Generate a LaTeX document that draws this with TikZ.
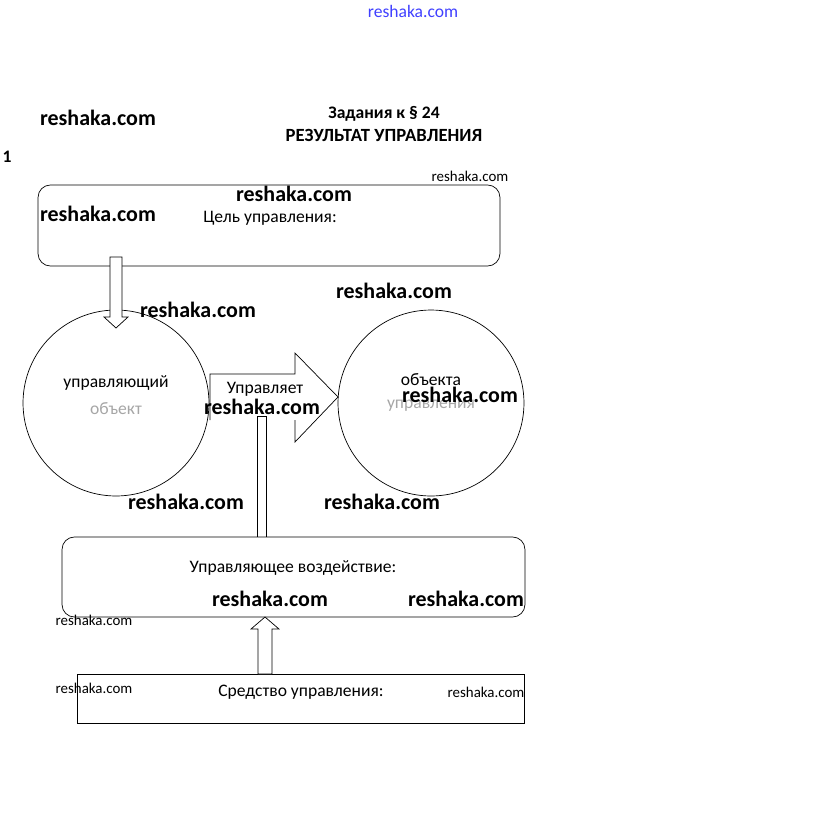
\documentclass[tikz,border=0pt]{standalone}
\usepackage{fontspec}
\setmainfont{Carlito}
\usetikzlibrary{positioning}

\begin{document}
\begin{tikzpicture}[x=0.02cm, y=-0.02cm,
    wm/.style={font=\bfseries\fontsize{12.5}{14}\selectfont, inner sep=0pt},
    wmsmall/.style={font=\fontsize{8.5}{10}\selectfont, inner sep=0pt},
    lbl/.style={font=\fontsize{10}{12}\selectfont, inner sep=0pt},
    faded/.style={lbl, text=black!35},
    panel/.style={draw, thin, rounded corners=7pt, inner sep=0pt},
    blockarrow/.style={draw, thin, fill=white}]

    \useasboundingbox (0,0) rectangle (823,840);

    % boxes and circles
    \node[panel, minimum width=9.24cm, minimum height=1.62cm] (goal) at (269,225.5) {};
    \node[draw, thin, circle, minimum size=3.72cm] (subj) at (116,403) {};
    \node[draw, thin, circle, minimum size=3.72cm] (obj) at (431,403) {};
    \node[panel, minimum width=9.26cm, minimum height=1.6cm] (action) at (293.5,577) {};
    \node[draw, thin, inner sep=0pt, minimum width=8.94cm, minimum height=0.98cm] (means) at (300.5,698.5) {};

    % block arrows
    \draw[blockarrow] (110,257) -- (110,317) -- (104,317) -- (116,328) -- (128,317) -- (122,317) -- (122,257) -- cycle;
    \fill[white] (210,374) rectangle (295,420);
    \draw[thin] (210,420) -- (210,374) -- (295,374) -- (295,353) -- (338,397) -- (295,442) -- (295,420);
    \draw[thin] (257,537) -- (257,416) -- (266,416) -- (266,537);
    \draw[blockarrow] (258,674) -- (258,629) -- (251,629) -- (265,617) -- (279,629) -- (272,629) -- (272,674) -- cycle;

    % texts
    \node[font=\bfseries\fontsize{10}{12}\selectfont] (task) at (384,114) {Задания к \S\ 24};
    \node[font=\bfseries\fontsize{10.6}{12}\selectfont] (title) at (384,135) {РЕЗУЛЬТАТ УПРАВЛЕНИЯ};
    \node[font=\bfseries\fontsize{10}{12}\selectfont] (num) at (7,157) {1};
    \node[lbl] (goaltext) at (270,218) {Цель управления:};
    \node[lbl] (subj1) at (116,383) {управляющий};
    \node[faded] (subj2) at (116,409) {объект};
    \node[lbl] (ctrl) at (265,389) {Управляет};
    \node[lbl] (obj1) at (431,380) {объекта};
    \node[faded] (obj2) at (431,406) {управления};
    \node[lbl] (acttext) at (293,568) {Управляющее воздействие:};
    \node[lbl] (meanstext) at (301,692) {Средство управления:};

    % watermarks
    \node[wmsmall, text=blue!75!white, font=\fontsize{10}{12}\selectfont] (wm0) at (413,11) {reshaka.com};
    \node[wm] (wm1) at (98,118) {reshaka.com};
    \node[wmsmall] (wm2) at (470,176) {reshaka.com};
    \node[wm] (wm3) at (294,194) {reshaka.com};
    \node[wm] (wm4) at (98,214) {reshaka.com};
    \node[wm] (wm5) at (394,291) {reshaka.com};
    \node[wm] (wm6) at (198,310) {reshaka.com};
    \node[wm] (wm7) at (262,407) {reshaka.com};
    \node[wm] (wm8) at (460,395) {reshaka.com};
    \node[wm] (wm9) at (186,502) {reshaka.com};
    \node[wm] (wm10) at (382,502) {reshaka.com};
    \node[wm] (wm11) at (270,599) {reshaka.com};
    \node[wm] (wm12) at (466,599) {reshaka.com};
    \node[wmsmall] (wm13) at (94,620) {reshaka.com};
    \node[wmsmall] (wm14) at (94,688) {reshaka.com};
    \node[wmsmall] (wm15) at (486,692) {reshaka.com};

\end{tikzpicture}
\end{document}
